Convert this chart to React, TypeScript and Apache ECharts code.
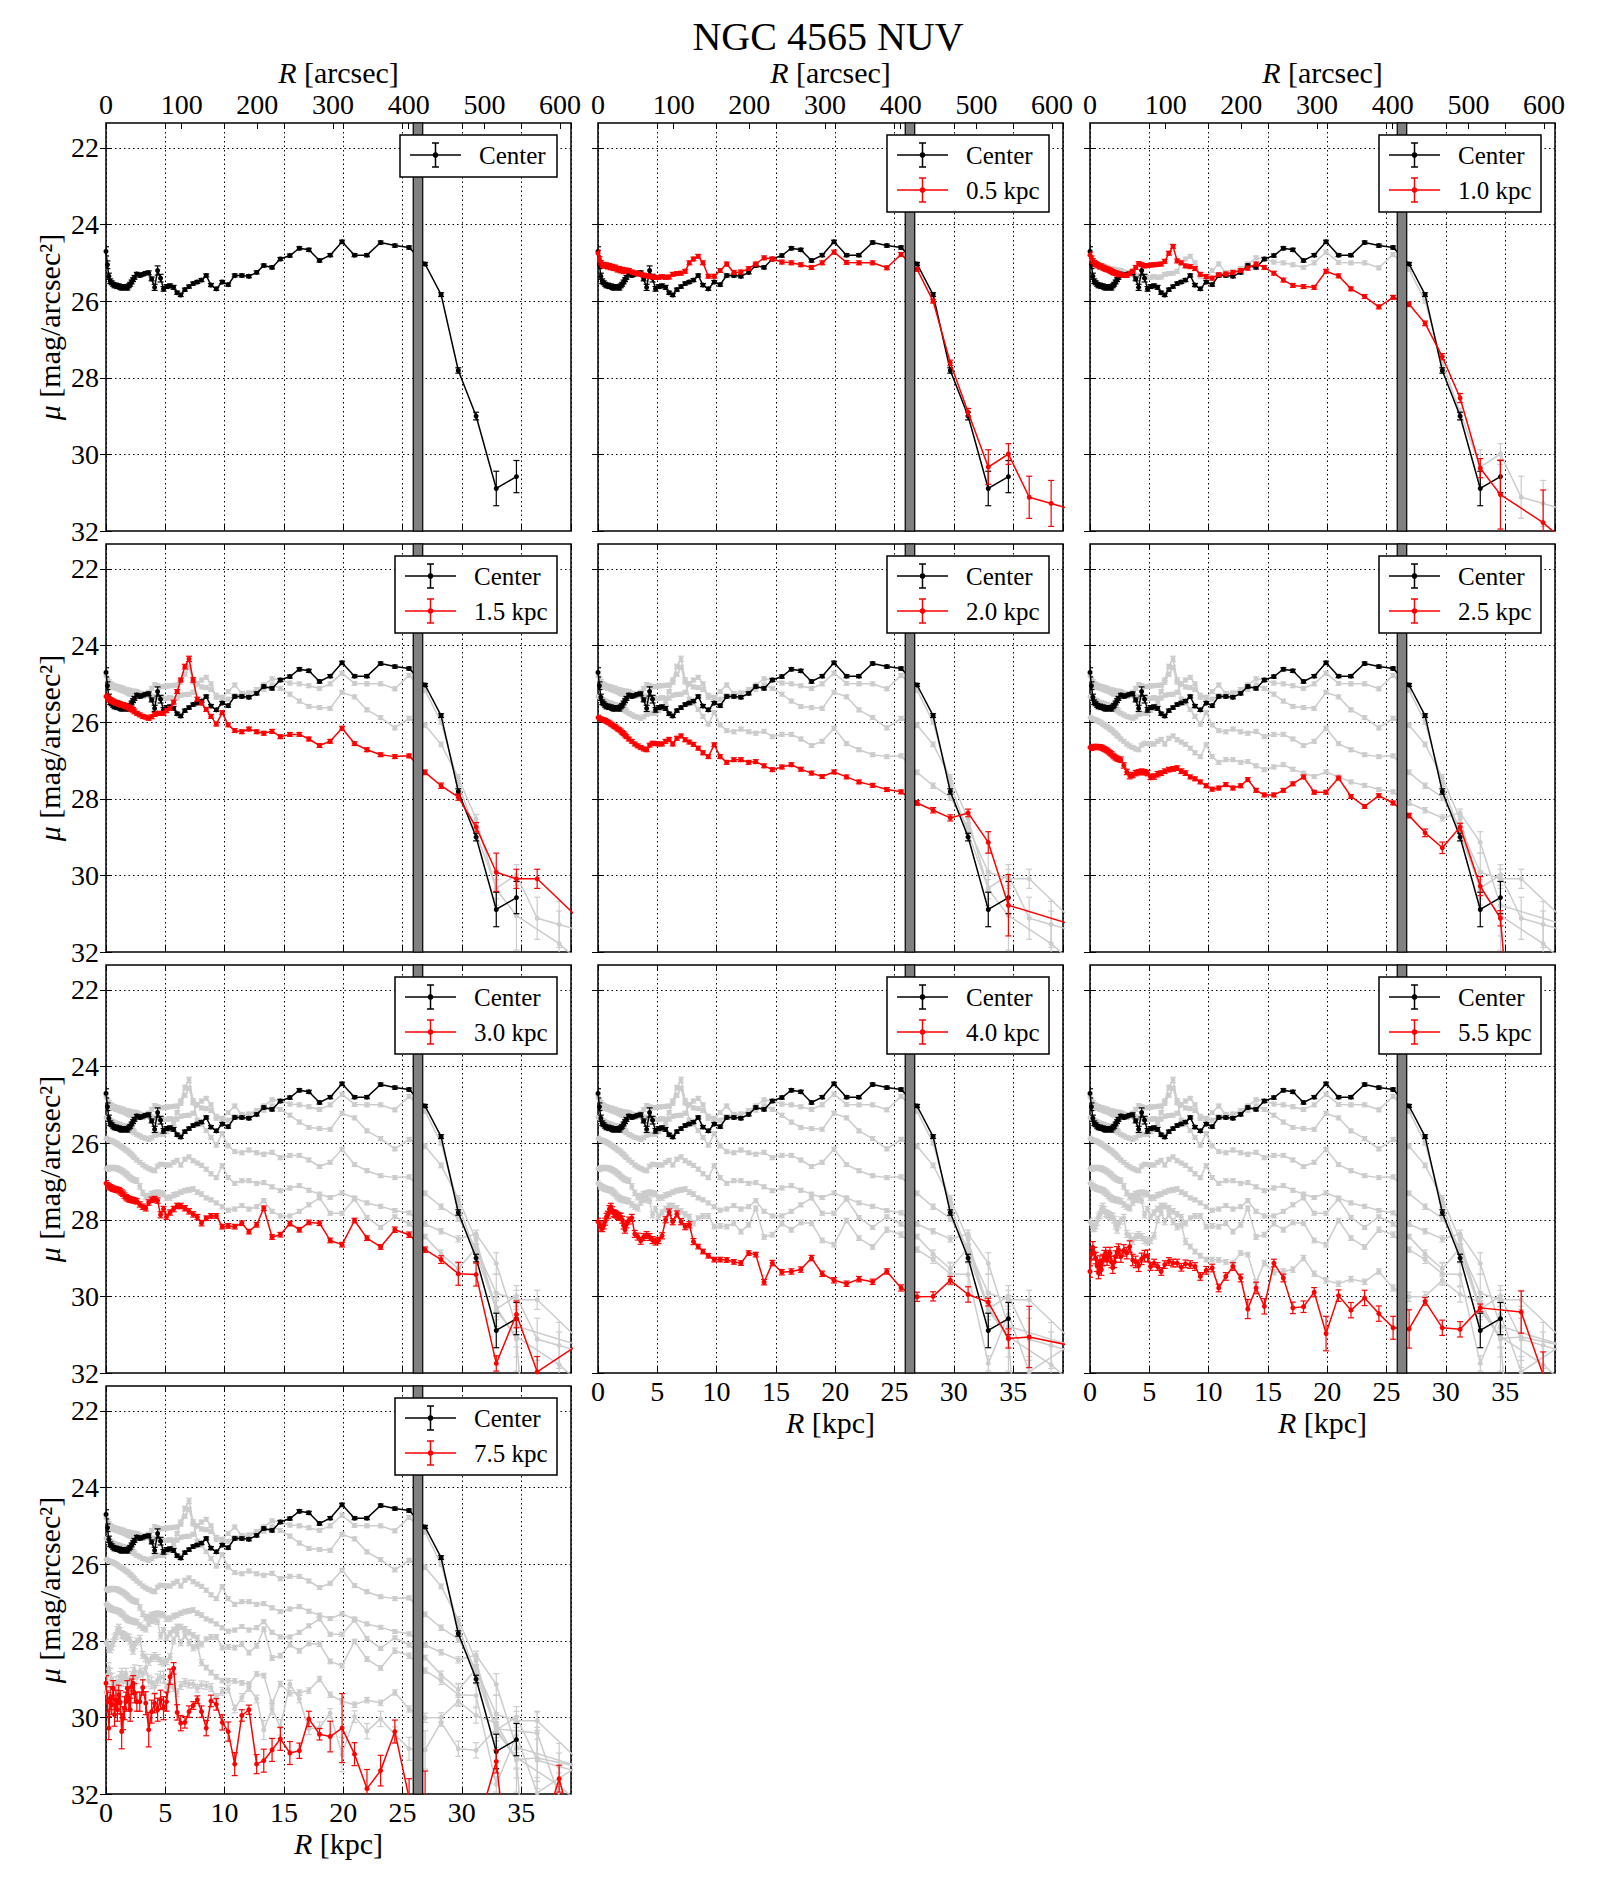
import React, { useEffect, useRef } from "react";
import * as echarts from "echarts";

// ---------------- DATA ----------------
// Radial bins (kpc), shared by all profiles
const radiusKpc = [
  0, 0.12, 0.24, 0.36, 0.48, 0.6, 0.72, 0.84, 0.96, 1.08, 1.2, 1.32, 1.44, 1.56, 1.68, 1.8, 1.92, 2.04, 2.16, 2.28, 2.4,
  2.6, 2.85, 3.1, 3.35, 3.6, 3.85, 4.1, 4.35, 4.6, 4.85,
  5.1, 5.4, 5.7, 6.0, 6.3, 6.65, 7.0, 7.35, 7.7, 8.05,
  8.45, 8.85, 9.3, 9.8, 10.3, 10.85, 11.45, 12.05, 12.7, 13.3,
  14.0, 14.7, 15.5, 16.3, 17.1, 18.0, 18.9, 19.9, 20.95, 22.0,
  23.15, 24.35, 25.55, 26.9, 28.25, 29.7, 31.2, 32.9, 34.6, 36.35,
  38.2, 40.1,
];

const muCenter = [
  24.7, 25.05, 25.35, 25.48, 25.52, 25.56, 25.6, 25.58, 25.62, 25.6, 25.64, 25.66, 25.62, 25.65, 25.63, 25.66, 25.6, 25.56, 25.5, 25.44, 25.38,
  25.29, 25.33, 25.3, 25.27, 25.26, 25.42, 25.64, 25.2, 25.4, 25.68,
  25.62, 25.6, 25.64, 25.78, 25.84, 25.7, 25.62, 25.54, 25.5, 25.45,
  25.33, 25.58, 25.68, 25.5, 25.57, 25.33, 25.33, 25.35, 25.25, 25.07,
  25.12, 24.9, 24.81, 24.62, 24.66, 24.94, 24.8, 24.45, 24.8, 24.8,
  24.47, 24.55, 24.6, 25.03, 25.83, 27.81, 29.0, 30.89, 30.58, null,
  null, null,
];
const errCenter = [
  0.12, 0.1, 0.08, 0.06, 0.05, 0.05, 0.05, 0.05, 0.05, 0.05, 0.05, 0.05, 0.05, 0.05, 0.05, 0.05, 0.05, 0.05, 0.05, 0.05, 0.05,
  0.04, 0.04, 0.04, 0.04, 0.05, 0.05, 0.08, 0.12, 0.1, 0.06,
  0.05, 0.05, 0.05, 0.04, 0.04, 0.04, 0.04, 0.04, 0.04, 0.04,
  0.04, 0.04, 0.04, 0.04, 0.04, 0.04, 0.04, 0.04, 0.04, 0.04,
  0.04, 0.04, 0.04, 0.04, 0.04, 0.04, 0.04, 0.04, 0.04, 0.04,
  0.04, 0.04, 0.04, 0.04, 0.05, 0.07, 0.1, 0.45, 0.42, 0,
  0, 0,
];

const mu05 = [
  24.75, 24.9, 25.0, 25.05, 25.05, 25.08, 25.06, 25.1, 25.08, 25.12, 25.1, 25.14, 25.12, 25.15, 25.18, 25.16, 25.2, 25.18, 25.22, 25.2, 25.2,
  25.2, 25.24, 25.26, 25.28, 25.3, 25.32, 25.34, 25.35, 25.37, 25.38,
  25.38, 25.36, 25.38, 25.37, 25.3, 25.28, 25.27, 25.22, 25.0, 24.9,
  24.83, 25.0, 25.35, 25.35, 25.2, 25.03, 25.25, 25.24, 25.15, 25.03,
  24.87, 24.9, 24.98, 25.0, 25.05, 25.12, 25.0, 24.72, 24.99, 25.0,
  25.0, 25.13, 24.78, 25.17, 26.0, 27.61, 28.9, 30.33, 29.99, 31.12,
  31.28, 31.45,
];
const err05 = [
  0.08, 0.06, 0.06, 0.06, 0.06, 0.06, 0.06, 0.06, 0.06, 0.06, 0.06, 0.06, 0.06, 0.06, 0.06, 0.06, 0.06, 0.06, 0.06, 0.06, 0.06,
  0.05, 0.05, 0.05, 0.05, 0.05, 0.05, 0.05, 0.05, 0.05, 0.05,
  0.05, 0.05, 0.05, 0.05, 0.05, 0.05, 0.05, 0.05, 0.05, 0.05,
  0.05, 0.05, 0.05, 0.05, 0.05, 0.05, 0.05, 0.05, 0.05, 0.05,
  0.05, 0.05, 0.05, 0.05, 0.05, 0.05, 0.05, 0.05, 0.05, 0.05,
  0.05, 0.05, 0.05, 0.05, 0.05, 0.07, 0.1, 0.45, 0.27, 0.55,
  0.6, 0.7,
];

const mu10 = [
  24.8, 24.88, 24.95, 25.0, 25.03, 25.05, 25.07, 25.1, 25.09, 25.12, 25.14, 25.16, 25.17, 25.18, 25.2, 25.22, 25.24, 25.26, 25.27, 25.28, 25.3,
  25.31, 25.32, 25.33, 25.28, 25.22, 25.12, 25.02, 25.05, 25.08, 25.07,
  25.06, 25.05, 25.04, 25.03, 24.96, 24.75, 24.57, 24.95, 25.0, 25.08,
  25.1, 25.15, 25.3, 25.36, 25.4, 25.31, 25.29, 25.25, 25.2, 25.14,
  25.03, 25.12, 25.27, 25.45, 25.59, 25.62, 25.64, 25.22, 25.34, 25.68,
  25.88, 26.15, 25.9, 26.08, 26.58, 27.45, 28.53, 30.36, 31.05, null,
  31.78, 32.3,
];
const err10 = [
  0.08, 0.06, 0.06, 0.06, 0.06, 0.06, 0.06, 0.06, 0.06, 0.06, 0.06, 0.06, 0.06, 0.06, 0.06, 0.06, 0.06, 0.06, 0.06, 0.06, 0.06,
  0.05, 0.05, 0.05, 0.05, 0.05, 0.05, 0.05, 0.05, 0.05, 0.05,
  0.05, 0.05, 0.05, 0.05, 0.05, 0.05, 0.05, 0.05, 0.05, 0.05,
  0.05, 0.05, 0.05, 0.05, 0.05, 0.05, 0.05, 0.05, 0.05, 0.05,
  0.05, 0.05, 0.05, 0.05, 0.05, 0.05, 0.05, 0.05, 0.05, 0.05,
  0.05, 0.05, 0.05, 0.06, 0.06, 0.08, 0.12, 0.25, 0.9, 0,
  0.85, 1.0,
];

const mu15 = [
  25.33, 25.36, 25.4, 25.42, 25.44, 25.46, 25.48, 25.5, 25.5, 25.52, 25.53, 25.55, 25.55, 25.57, 25.58, 25.6, 25.62, 25.64, 25.66, 25.68, 25.72,
  25.77, 25.81, 25.85, 25.87, 25.9, 25.86, 25.8, 25.77, 25.77, 25.77,
  25.7, 25.64, 25.48, 25.2, 24.9, 24.55, 24.35, 24.9, 25.4, 25.5,
  25.67, 25.85, 26.05, 25.75, 26.07, 26.22, 26.25, 26.18, 26.25, 26.29,
  26.24, 26.38, 26.32, 26.32, 26.44, 26.61, 26.5, 26.16, 26.56, 26.72,
  26.85, 26.9, 26.88, 27.31, 27.66, 27.96, 28.74, 29.92, 30.09, 30.09,
  null, 31.2,
];
const err15 = [
  0.07, 0.06, 0.06, 0.06, 0.06, 0.06, 0.06, 0.06, 0.06, 0.06, 0.06, 0.06, 0.06, 0.06, 0.06, 0.06, 0.06, 0.06, 0.06, 0.06, 0.06,
  0.05, 0.05, 0.05, 0.05, 0.05, 0.05, 0.05, 0.05, 0.05, 0.05,
  0.05, 0.05, 0.05, 0.05, 0.05, 0.06, 0.07, 0.06, 0.05, 0.05,
  0.05, 0.05, 0.05, 0.05, 0.05, 0.05, 0.05, 0.05, 0.05, 0.05,
  0.05, 0.05, 0.05, 0.05, 0.05, 0.05, 0.05, 0.05, 0.05, 0.05,
  0.05, 0.05, 0.05, 0.06, 0.07, 0.08, 0.12, 0.5, 0.25, 0.25,
  0, 0.4,
];

const mu20 = [
  25.88, 25.9, 25.92, 25.93, 25.94, 25.96, 25.98, 26.0, 26.02, 26.05, 26.07, 26.1, 26.12, 26.15, 26.18, 26.2, 26.23, 26.27, 26.3, 26.34, 26.38,
  26.44, 26.5, 26.57, 26.62, 26.66, 26.7, 26.72, 26.6, 26.55, 26.56,
  26.57, 26.57, 26.5, 26.45, 26.57, 26.42, 26.36, 26.46, 26.52, 26.58,
  26.68, 26.8, 26.9, 26.59, 26.9, 27.05, 26.98, 26.98, 27.05, 27.03,
  27.14, 27.24, 27.17, 27.11, 27.23, 27.33, 27.42, 27.3, 27.43, 27.56,
  27.65, 27.76, 27.82, 28.11, 28.3, 28.5, 28.37, 29.14, 30.78, null,
  null, 31.3,
];
const err20 = [
  0.06, 0.05, 0.05, 0.05, 0.05, 0.05, 0.05, 0.05, 0.05, 0.05, 0.05, 0.05, 0.05, 0.05, 0.05, 0.05, 0.05, 0.05, 0.05, 0.05, 0.05,
  0.05, 0.05, 0.05, 0.05, 0.05, 0.05, 0.05, 0.05, 0.05, 0.05,
  0.05, 0.05, 0.05, 0.05, 0.05, 0.05, 0.05, 0.05, 0.05, 0.05,
  0.05, 0.05, 0.05, 0.05, 0.05, 0.05, 0.05, 0.05, 0.05, 0.05,
  0.05, 0.05, 0.05, 0.05, 0.05, 0.05, 0.05, 0.05, 0.05, 0.05,
  0.05, 0.05, 0.05, 0.06, 0.07, 0.08, 0.1, 0.28, 0.8, 0,
  0, 0.5,
];

const mu25 = [
  26.66, 26.68, 26.66, 26.64, 26.65, 26.64, 26.66, 26.65, 26.66, 26.68, 26.7, 26.72, 26.74, 26.77, 26.8, 26.83, 26.87, 26.9, 26.93, 26.95, 26.97,
  26.98, 27.13, 27.3, 27.4, 27.38, 27.33, 27.31, 27.29, 27.31, 27.33,
  27.43, 27.42, 27.36, 27.33, 27.28, 27.24, 27.22, 27.2, 27.28, 27.33,
  27.43, 27.48, 27.56, 27.66, 27.75, 27.72, 27.63, 27.72, 27.66, 27.5,
  27.78, 27.9, 27.9, 27.78, 27.61, 27.43, 27.83, 27.83, 27.46, 27.94,
  28.2, 27.92, 28.11, 28.44, 28.89, 29.28, 28.74, 30.28, 31.12, 37.5,
  null, null,
];
const err25 = [
  0.06, 0.06, 0.06, 0.06, 0.06, 0.06, 0.06, 0.06, 0.06, 0.06, 0.06, 0.06, 0.06, 0.06, 0.06, 0.06, 0.06, 0.06, 0.06, 0.06, 0.06,
  0.07, 0.07, 0.07, 0.08, 0.07, 0.07, 0.07, 0.07, 0.07, 0.07,
  0.07, 0.07, 0.07, 0.06, 0.06, 0.06, 0.06, 0.06, 0.06, 0.06,
  0.05, 0.05, 0.05, 0.05, 0.05, 0.05, 0.05, 0.05, 0.05, 0.05,
  0.05, 0.05, 0.05, 0.05, 0.05, 0.05, 0.05, 0.05, 0.05, 0.05,
  0.05, 0.05, 0.05, 0.06, 0.1, 0.15, 0.1, 0.25, 0.2, 0.5,
  0, 0,
];

const mu30 = [
  27.05, 27.1, 27.13, 27.15, 27.17, 27.19, 27.2, 27.21, 27.22, 27.23, 27.26, 27.29, 27.32, 27.37, 27.41, 27.44, 27.46, 27.47, 27.48, 27.49, 27.5,
  27.52, 27.6, 27.66, 27.7, 27.55, 27.48, 27.46, 27.5, 27.87, 27.72,
  27.92, 27.81, 27.72, 27.64, 27.64, 27.7, 27.78, 27.86, 27.93, 28.09,
  27.96, 27.9, 27.9, 28.18, 28.16, 28.18, 28.09, 28.31, 28.13, 27.7,
  28.45, 28.39, 28.1, 28.26, 28.07, 28.09, 28.54, 28.65, 28.02, 28.48,
  28.71, 28.26, 28.39, 28.78, 29.04, 29.41, 29.43, 31.75, 30.47, 31.97,
  null, 31.2,
];
const err30 = [
  0.07, 0.07, 0.07, 0.07, 0.07, 0.07, 0.07, 0.07, 0.07, 0.07, 0.07, 0.07, 0.07, 0.07, 0.07, 0.07, 0.07, 0.07, 0.07, 0.07, 0.07,
  0.07, 0.07, 0.07, 0.07, 0.07, 0.07, 0.07, 0.07, 0.08, 0.07,
  0.07, 0.07, 0.07, 0.07, 0.07, 0.07, 0.07, 0.07, 0.07, 0.07,
  0.06, 0.06, 0.06, 0.06, 0.06, 0.06, 0.06, 0.06, 0.06, 0.06,
  0.06, 0.06, 0.06, 0.06, 0.06, 0.06, 0.06, 0.06, 0.06, 0.06,
  0.06, 0.07, 0.07, 0.07, 0.1, 0.3, 0.3, 0.2, 0.35, 0.4,
  0, 0.5,
];

const mu40 = [
  28.05, 28.12, 28.2, 28.22, 28.15, 28.05, 27.92, 27.87, 27.72, 27.66, 27.75, 27.83, 27.85, 27.87, 27.9, 27.92, 27.92, 28.0, 28.15, 28.26, 28.12,
  28.02, 27.95, 28.37, 28.44, 28.55, 28.45, 28.4, 28.45, 28.53, 28.57,
  28.54, 28.42, 28.0, 27.8, 28.05, 27.85, 28.05, 28.18, 28.13, 28.57,
  28.7, 28.83, 28.94, 29.04, 29.04, 29.05, 29.1, 29.13, 28.87, 28.91,
  29.63, 29.13, 29.37, 29.35, 29.3, 29.0, 29.41, 29.58, 29.67, 29.55,
  29.62, 29.35, 29.78, 30.01, 30.0, 29.58, 29.95, 30.15, 31.1, 31.06,
  null, 31.3,
];
const err40 = [
  0.09, 0.09, 0.09, 0.09, 0.09, 0.09, 0.09, 0.09, 0.09, 0.09, 0.09, 0.09, 0.09, 0.09, 0.09, 0.09, 0.09, 0.09, 0.09, 0.09, 0.09,
  0.09, 0.09, 0.09, 0.09, 0.09, 0.09, 0.09, 0.09, 0.09, 0.09,
  0.08, 0.08, 0.08, 0.08, 0.08, 0.08, 0.08, 0.08, 0.08, 0.08,
  0.06, 0.06, 0.06, 0.06, 0.06, 0.06, 0.06, 0.06, 0.06, 0.06,
  0.07, 0.07, 0.07, 0.07, 0.07, 0.07, 0.07, 0.07, 0.07, 0.07,
  0.07, 0.07, 0.08, 0.12, 0.12, 0.1, 0.2, 0.1, 0.25, 0.8,
  0, 0.6,
];

const mu55 = [
  29.35, 28.9, 28.72, 28.87, 29.0, 29.2, 29.39, 29.09, 29.3, 29.05, 28.95, 28.87, 29.04, 28.95, 28.87, 29.1, 29.25, 29.1, 28.96, 28.85, 28.78,
  28.96, 28.8, 28.87, 28.7, 29.05, 29.1, 29.2, 29.02, 28.95, 28.94,
  29.22, 29.13, 29.22, 29.35, 29.17, 29.09, 29.13, 29.13, 29.24, 29.15,
  29.17, 29.22, 29.48, 29.32, 29.26, 29.78, 29.48, 29.22, 29.52, 30.33,
  29.78, 30.26, 29.13, 29.52, 30.3, 30.27, 29.89, 30.97, 29.98, 30.36,
  30.04, 30.45, 30.82, 30.85, 30.13, 30.82, 30.86, 30.3, null, 30.41,
  32.05, 33.5,
];
const err55 = [
  0.15, 0.15, 0.15, 0.15, 0.15, 0.15, 0.15, 0.15, 0.15, 0.15, 0.15, 0.15, 0.15, 0.15, 0.15, 0.15, 0.15, 0.15, 0.15, 0.15, 0.15,
  0.15, 0.15, 0.15, 0.15, 0.15, 0.15, 0.15, 0.15, 0.15, 0.15,
  0.1, 0.1, 0.1, 0.1, 0.1, 0.1, 0.1, 0.1, 0.1, 0.1,
  0.1, 0.1, 0.1, 0.1, 0.1, 0.1, 0.1, 0.1, 0.1, 0.25,
  0.15, 0.2, 0.1, 0.1, 0.15, 0.15, 0.12, 0.45, 0.15, 0.2,
  0.2, 0.2, 0.3, 0.5, 0.1, 0.2, 0.2, 0.1, 0, 0.55,
  0.6, 0.8,
];

const mu75 = [
  29.11, 29.6, 30.28, 29.5, 29.67, 29.24, 29.93, 29.54, 29.8, 29.41, 29.6, 30.37, 30.02, 29.76, 29.59, 29.24, 29.5, 29.8, 29.2, 29.11, 29.37,
  29.59, 29.59, 29.22, 29.63, 30.32, 29.85, 29.63, 29.8, 29.54, 29.76,
  29.59, 28.94, 28.72, 29.87, 30.15, 30.13, 29.85, 29.69, 29.54, 29.85,
  30.28, 29.57, 29.66, 30.13, 30.37, 31.22, 29.95, 29.8, 31.22, 31.13,
  30.85, 30.56, 30.93, 30.87, 30.04, 30.44, 30.5, 30.28, 30.96, 31.86,
  31.39, 30.37, 32.1, 32.4, 33.5, 34.0, 33.0, 31.15, 35.9, 33.45,
  31.6, 33.8,
];
const err75 = [
  0.2, 0.25, 0.3, 0.3, 0.25, 0.2, 0.3, 0.25, 0.3, 0.25, 0.3, 0.45, 0.3, 0.3, 0.25, 0.2, 0.3, 0.3, 0.2, 0.2, 0.25,
  0.25, 0.25, 0.2, 0.3, 0.45, 0.3, 0.25, 0.3, 0.25, 0.3,
  0.25, 0.2, 0.15, 0.2, 0.2, 0.15, 0.15, 0.1, 0.1, 0.15,
  0.2, 0.15, 0.15, 0.2, 0.25, 0.3, 0.15, 0.12, 0.25, 0.3,
  0.3, 0.3, 0.3, 0.2, 0.2, 0.15, 0.4, 0.9, 0.3, 0.5,
  0.4, 0.3, 0.5, 1.0, 0.5, 0.5, 0.5, 0.3, 0.5, 0.5,
  0.35, 0.5,
];

const offsetLabels = ["0.5 kpc", "1.0 kpc", "1.5 kpc", "2.0 kpc", "2.5 kpc", "3.0 kpc", "4.0 kpc", "5.5 kpc", "7.5 kpc"];
const offsetProfiles = [mu05, mu10, mu15, mu20, mu25, mu30, mu40, mu55, mu75];
const offsetErrors = [err05, err10, err15, err20, err25, err30, err40, err55, err75];

const yTickValues = [22, 24, 26, 28, 30, 32];
const yGridValues = [22, 24, 26, 28, 30];
const bandKpc = [25.9, 26.7];
const KPC_PER_ARCSEC = 0.0638;
const X_MAX_KPC = 39.2;
const Y_TOP = 21.35;
const Y_BOTTOM = 32;

// ---------------- LAYOUT ----------------
const COL_LEFT = [106, 598, 1090];
const ROW_TOP = [123, 544, 965, 1386];
const PANEL_W = 465;
const PANEL_H = 408;
const panels = [
  { row: 0, col: 0, k: -1 },
  { row: 0, col: 1, k: 0 },
  { row: 0, col: 2, k: 1 },
  { row: 1, col: 0, k: 2 },
  { row: 1, col: 1, k: 3 },
  { row: 1, col: 2, k: 4 },
  { row: 2, col: 0, k: 5 },
  { row: 2, col: 1, k: 6 },
  { row: 2, col: 2, k: 7 },
  { row: 3, col: 0, k: 8 },
];

const FONT = '"Liberation Serif", "DejaVu Serif", serif';
const GRAY = "#cccccc";
const RED = "#ff0000";
const BLACK = "#000000";

function pointsOf(mu: (number | null)[], err: number[]) {
  const out: number[][] = [];
  radiusKpc.forEach((r, i) => {
    const v = mu[i];
    if (v !== null && v !== undefined) out.push([r, v, err[i]]);
  });
  return out;
}

function profileSeries(mu: any[], err: number[], color: string, xi: number, yi: number, z: number, extra: any = {}) {
  const pts = pointsOf(mu, err);
  const line = {
    type: "line",
    xAxisIndex: xi,
    yAxisIndex: yi,
    data: pts.map((p) => [p[0], p[1]]),
    symbol: "circle",
    symbolSize: 5,
    showSymbol: true,
    showAllSymbol: true,
    clip: true,
    silent: true,
    z,
    lineStyle: { color, width: 1.5 },
    itemStyle: { color },
    ...extra,
  };
  const bars = {
    type: "custom",
    xAxisIndex: xi,
    yAxisIndex: yi,
    data: pts,
    clip: true,
    silent: true,
    z,
    encode: { x: 0, y: 1 },
    renderItem: (params: any, api: any) => {
      const x = api.value(0);
      const y = api.value(1);
      const e = api.value(2);
      if (!e) return { type: "group", children: [] };
      const a = api.coord([x, y - e]);
      const b = api.coord([x, y + e]);
      const c = 3;
      const st = { stroke: color, lineWidth: 1.2 };
      return {
        type: "group",
        children: [
          { type: "line", shape: { x1: a[0], y1: a[1], x2: b[0], y2: b[1] }, style: st },
          { type: "line", shape: { x1: a[0] - c, y1: a[1], x2: a[0] + c, y2: a[1] }, style: st },
          { type: "line", shape: { x1: b[0] - c, y1: b[1], x2: b[0] + c, y2: b[1] }, style: st },
        ],
      };
    },
  };
  return [bars, line];
}

function legendGraphic(row: number, col: number, k: number) {
  const entries = [{ label: "Center", color: BLACK }];
  if (k >= 0) entries.push({ label: offsetLabels[k], color: RED });
  const w = entries.length === 1 ? 157 : 162;
  const h = entries.length === 1 ? 42 : 77;
  const bx = COL_LEFT[col] + PANEL_W - 14 - w;
  const by = ROW_TOP[row] + 12;
  const Z = 100;
  const children: any[] = [
    { type: "rect", z: Z, shape: { x: bx, y: by, width: w, height: h }, style: { fill: "#fff", stroke: "#000", lineWidth: 1.5 } },
  ];
  entries.forEach((en, idx) => {
    const cy = by + 20 + idx * 35;
    const lx0 = bx + 10;
    const lx1 = bx + 61;
    const cx = (lx0 + lx1) / 2;
    const st = { stroke: en.color, lineWidth: 1.5 };
    children.push({ type: "line", z: Z + 1, shape: { x1: lx0, y1: cy, x2: lx1, y2: cy }, style: st });
    children.push({ type: "line", z: Z + 1, shape: { x1: cx, y1: cy - 12, x2: cx, y2: cy + 12 }, style: st });
    children.push({ type: "line", z: Z + 1, shape: { x1: cx - 3.5, y1: cy - 12, x2: cx + 3.5, y2: cy - 12 }, style: st });
    children.push({ type: "line", z: Z + 1, shape: { x1: cx - 3.5, y1: cy + 12, x2: cx + 3.5, y2: cy + 12 }, style: st });
    children.push({ type: "circle", z: Z + 1, shape: { cx, cy, r: 2.8 }, style: { fill: en.color } });
    children.push({
      type: "text",
      z: Z + 1,
      x: bx + 79,
      y: cy,
      style: { text: en.label, fontSize: 25, fontFamily: FONT, fill: "#000", align: "left", verticalAlign: "middle" },
    });
  });
  return children;
}

function buildOption() {
  const grid: any[] = [];
  const xAxis: any[] = [];
  const yAxis: any[] = [];
  const series: any[] = [];
  const graphic: any[] = [];

  const tickStyle = { show: true, inside: true, length: 6, lineStyle: { color: "#000", width: 1 } };
  const labelBase = { fontSize: 28, fontFamily: FONT, color: "#000" };
  const nameStyle = {
    fontSize: 30,
    fontFamily: FONT,
    color: "#000",
    rich: { it: { fontSize: 30, fontFamily: FONT, fontStyle: "italic", color: "#000" } },
  };

  panels.forEach((p, i) => {
    const left = COL_LEFT[p.col];
    const top = ROW_TOP[p.row];
    grid.push({
      left,
      top,
      width: PANEL_W,
      height: PANEL_H,
      show: true,
      borderColor: "#000",
      borderWidth: 1.5,
      backgroundColor: "transparent",
    });
    const showBottom = (p.row === 3 && p.col === 0) || (p.row === 2 && p.col > 0);
    const xi = xAxis.length;
    xAxis.push({
      gridIndex: i,
      type: "value",
      position: "bottom",
      min: 0,
      max: X_MAX_KPC,
      interval: 5,
      axisLine: { show: false },
      axisTick: tickStyle,
      axisLabel: {
        show: showBottom,
        ...labelBase,
        margin: 4,
        showMaxLabel: false,
        formatter: (v: number) => (Math.abs(v % 5) < 1e-6 ? String(v) : ""),
      },
      splitLine: { show: true, lineStyle: { color: "#000", type: [1.5, 3], width: 1 } },
      name: showBottom ? "{it|R} [kpc]" : "",
      nameLocation: "middle",
      nameGap: 34,
      nameTextStyle: nameStyle,
    });
    xAxis.push({
      gridIndex: i,
      type: "value",
      position: "top",
      min: 0,
      max: X_MAX_KPC,
      interval: 5,
      axisLine: { show: false },
      axisTick: tickStyle,
      axisLabel: { show: false },
      splitLine: { show: false },
    });
    if (p.row === 0) {
      xAxis.push({
        gridIndex: i,
        type: "value",
        position: "top",
        min: 0,
        max: X_MAX_KPC / KPC_PER_ARCSEC,
        interval: 100,
        axisLine: { show: false },
        axisTick: tickStyle,
        axisLabel: {
          show: true,
          ...labelBase,
          margin: 5,
          showMaxLabel: false,
          formatter: (v: number) => (Math.abs(v % 100) < 1e-6 ? String(v) : ""),
        },
        splitLine: { show: false },
        name: "{it|R} [arcsec]",
        nameLocation: "middle",
        nameGap: 36,
        nameTextStyle: nameStyle,
      });
    }
    const yi = yAxis.length;
    yAxis.push({
      gridIndex: i,
      type: "value",
      position: "left",
      inverse: true,
      min: Y_TOP,
      max: Y_BOTTOM,
      axisLine: { show: false },
      axisTick: { ...tickStyle, customValues: yTickValues },
      axisLabel: { show: p.col === 0, ...labelBase, margin: 7, customValues: yTickValues },
      splitLine: { show: false },
      name: p.col === 0 ? "{it|μ} [mag/arcsec²]" : "",
      nameLocation: "middle",
      nameRotate: 90,
      nameGap: 42,
      nameTextStyle: nameStyle,
    });
    yAxis.push({
      gridIndex: i,
      type: "value",
      position: "right",
      inverse: true,
      min: Y_TOP,
      max: Y_BOTTOM,
      axisLine: { show: false },
      axisTick: { ...tickStyle, customValues: yTickValues },
      axisLabel: { show: false },
      splitLine: { show: false },
    });

    // gray: previous offsets
    for (let j = 0; j < p.k; j++) {
      series.push(...profileSeries(offsetProfiles[j], offsetErrors[j], GRAY, xi, yi, 2));
    }
    // center, carrying grid lines and band
    series.push(
      ...profileSeries(muCenter, errCenter, BLACK, xi, yi, 3, {
        markLine: {
          silent: true,
          symbol: ["none", "none"],
          z: 1,
          label: { show: false },
          lineStyle: { color: "#000", type: [1.5, 3], width: 1 },
          data: yGridValues.map((v) => ({ yAxis: v })),
          animation: false,
        },
        markArea: {
          silent: true,
          z: 10,
          itemStyle: { color: "#808080", borderColor: "#000", borderWidth: 1.2 },
          data: [[{ xAxis: bandKpc[0] }, { xAxis: bandKpc[1] }]],
          animation: false,
        },
      })
    );
    if (p.k >= 0) {
      series.push(...profileSeries(offsetProfiles[p.k], offsetErrors[p.k], RED, xi, yi, 4));
    }
    graphic.push(...legendGraphic(p.row, p.col, p.k));
  });

  graphic.push({
    type: "text",
    x: 828,
    y: 36,
    z: 100,
    style: { text: "NGC 4565 NUV", fontSize: 40, fontFamily: FONT, fill: "#000", align: "center", verticalAlign: "middle" },
  });

  return {
    animation: false,
    backgroundColor: "#ffffff",
    textStyle: { fontFamily: FONT },
    grid,
    xAxis,
    yAxis,
    series,
    graphic,
  };
}

export default function App() {
  const ref = useRef<HTMLDivElement>(null);
  useEffect(() => {
    document.body.style.margin = "0";
    if (!ref.current) return;
    const chart = echarts.init(ref.current, undefined, { renderer: "svg" });
    chart.setOption(buildOption() as any);
    return () => chart.dispose();
  }, []);
  return <div ref={ref} style={{ width: 1600, height: 1897, background: "#fff" }} />;
}
